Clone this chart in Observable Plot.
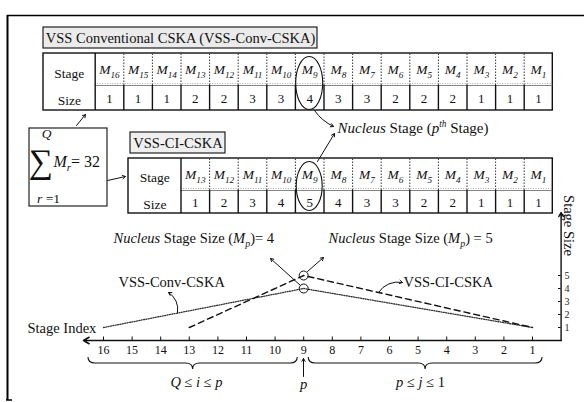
<!DOCTYPE html>
<html><head><meta charset="utf-8">
<script src="https://cdn.jsdelivr.net/npm/d3@7"></script>
<script src="https://cdn.jsdelivr.net/npm/@observablehq/plot@0.6"></script>
<style>html,body{margin:0;padding:0;background:#fff;} #chart svg{display:block;}</style>
</head><body><div id="chart"></div>
<script>
// ---------- data ----------
const convStages = [16,15,14,13,12,11,10,9,8,7,6,5,4,3,2,1];
const convLabels = ["M16","M15","M14","M13","M12","M11","M10","M9","M8","M7","M6","M5","M4","M3","M2","M1"];
const convSizes  = [1,1,1,2,2,3,3,4,3,3,2,2,2,1,1,1];
const ciStages = [13,12,11,10,9,8,7,6,5,4,3,2,1];
const ciLabels = ["M13","M12","M11","M10","M9","M8","M7","M6","M5","M4","M3","M2","M1"];
const ciSizes  = [1,2,3,4,5,4,3,3,2,2,1,1,1];
const stageTicks = [16,15,14,13,12,11,10,9,8,7,6,5,4,3,2,1];
const sizeTicks = [1,2,3,4,5];

// ---------- layout helpers (pixel <-> scale units) ----------
const PX0 = 532, PXU = 28.6, PY0 = 340, PYU = 13;
const X = p => 1 + (PX0 - p) / PXU;     // pixel x -> stage index
const Y = p => (PY0 - p) / PYU;         // pixel y -> stage size
const px = v => PX0 - (v - 1) * PXU;
const COL = 6 / PXU;
const cx = s => s - COL;                 // table column centre in stage units
const FONT = "'Liberation Serif', 'Times New Roman', serif";
const RICH = "\u200B";                   // marker for texts with italic/sub/sup markup

function trend(stages, sizes) {
  const k = d3.maxIndex(sizes);
  return [
    {s: stages[0], v: sizes[0]},
    {s: stages[k], v: sizes[k]},
    {s: stages[stages.length - 1], v: sizes[sizes.length - 1]}
  ];
}
const convTrend = trend(convStages, convSizes);
const ciTrend = trend(ciStages, ciSizes);
const nucleus = [convTrend[1], ciTrend[1]];
const total = d3.sum(convSizes);

function table(stages, labels, sizes, left, top, mid, bottom) {
  const rows = stages.map((s, k) => ({s, label: RICH + "*M*_{" + labels[k].slice(1) + "}", v: sizes[k]}));
  const first = stages[0];
  const inner = stages.slice(1);
  const hdrRight = px(cx(first + 0.5));
  return [
    Plot.rect([0], {x1: X(left), x2: cx(0.5), y1: Y(bottom), y2: Y(top), fill: "white", stroke: "#111", strokeWidth: 1.4}),
    Plot.ruleY([0], {y: Y(mid), x1: cx(first + 0.5), x2: cx(0.5), stroke: "#777", strokeWidth: 0.9}),
    Plot.ruleY([0], {y: Y(mid - 2), x1: cx(first + 0.5), x2: cx(0.5), stroke: "#999", strokeWidth: 0.8, strokeDasharray: "1,1.5"}),
    Plot.ruleX([first + 0.5], {x: d => cx(d), y1: Y(bottom), y2: Y(top), stroke: "#111", strokeWidth: 1.4}),
    Plot.ruleX(inner, {x: d => cx(d + 0.5), y1: Y(mid), y2: Y(top), stroke: "#333", strokeWidth: 1, strokeDasharray: "1.5,1.5"}),
    Plot.ruleX(inner, {x: d => cx(d + 0.5), y1: Y(bottom), y2: Y(mid), stroke: "#111", strokeWidth: 1.4}),
    Plot.text(rows, {x: d => cx(d.s), y: Y((top + mid) / 2 + 0.5), text: "label", fontSize: 13.5, fill: "#111"}),
    Plot.text(rows, {x: d => cx(d.s), y: Y((mid + bottom) / 2 + 0.5), text: "v", fontSize: 13, fill: "#111"}),
    Plot.text(["Stage\nSize"], {x: X((left + hdrRight) / 2), y: Y((top + bottom) / 2 + 1), lineHeight: 2, fontSize: 13.5, fill: "#111"})
  ];
}

const arrow = (x1, y1, x2, y2, o = {}) => Plot.arrow([0], {x1: X(x1), y1: Y(y1), x2: X(x2), y2: Y(y2), stroke: "#111", strokeWidth: 1, headLength: 5, ...o});
const label = (t, x, y, o = {}) => Plot.text([RICH + t], {x: X(x), y: Y(y), fontSize: 14.5, fill: "#111", textAnchor: "start", ...o});

const plot = Plot.plot({
  width: 584, height: 402, margin: 0,
  x: {domain: [X(0), X(584)], axis: null},
  y: {domain: [Y(402), Y(0)], axis: null},
  style: {fontFamily: FONT, background: "white", overflow: "visible"},
  marks: [
    // frame
    Plot.ruleX([0], {x: X(7), y1: Y(15), y2: Y(400), stroke: "#000", strokeWidth: 2}),
    Plot.ruleY([0], {y: Y(15), x1: X(7), x2: X(584), stroke: "#000", strokeWidth: 1.6}),
    Plot.ruleY([0], {y: Y(399.5), x1: X(6), x2: X(12), stroke: "#000", strokeWidth: 1.5}),

    // title boxes
    Plot.rect([0], {x1: X(43), x2: X(317), y1: Y(48), y2: Y(27), fill: "#ebebeb", stroke: "#222", strokeWidth: 1.2}),
    label("VSS Conventional CSKA (VSS-Conv-CSKA)", 180, 38, {textAnchor: "middle"}),
    Plot.rect([0], {x1: X(130), x2: X(225), y1: Y(153), y2: Y(132), fill: "#efefef", stroke: "#222", strokeWidth: 1.2}),
    label("VSS-CI-CSKA", 177.5, 142.5, {textAnchor: "middle"}),

    // tables
    ...table(convStages, convLabels, convSizes, 43, 53, 85, 110),
    ...table(ciStages, ciLabels, ciSizes, 128, 158, 190, 213),

    // sum box
    Plot.rect([0], {x1: X(29), x2: X(107), y1: Y(206), y2: Y(128), fill: "white", stroke: "#222", strokeWidth: 1.2}),
    label("*Q*", 46, 133.5, {textAnchor: "middle", fontSize: 13.5}),
    label("\u2211", 40, 162, {textAnchor: "middle", fontSize: 34}),
    label("*M*_{r}= " + total, 53, 161, {fontSize: 16}),
    label("*r* =1", 48, 198, {textAnchor: "middle", fontSize: 13.5}),
    arrow(76, 125, 85, 114),
    arrow(107, 180, 125, 176),

    // nucleus annotation
    label("*Nucleus* Stage (*p*^{th} Stage)", 337, 128, {fontSize: 15}),
    arrow(314, 110, 333, 126, {bend: -15}),
    arrow(317, 161, 334, 133),

    // chart axes
    arrow(560.6, 340, 83, 340, {strokeWidth: 1.6, headLength: 6}),
    arrow(560.6, 340, 560.6, 212, {strokeWidth: 1.4, headLength: 5}),
    Plot.ruleX(stageTicks, {x: d => d, y1: 0, y2: Y(336.5), stroke: "#111", strokeWidth: 1}),
    Plot.text(stageTicks, {x: d => d, y: Y(349.5), text: d => d, fontSize: 12, fill: "#111"}),
    Plot.ruleY(sizeTicks, {y: d => d, x1: X(558), x2: 0, stroke: "#111", strokeWidth: 1}),
    Plot.text(sizeTicks, {x: X(564), y: d => d, text: d => d, fontSize: 10, fill: "#222", textAnchor: "start"}),
    Plot.text(["Stage Size"], {x: X(568), y: Y(225), rotate: 90, fontSize: 14.5, fill: "#111"}),

    // trend lines
    Plot.line(convTrend, {x: "s", y: "v", stroke: "#333", strokeWidth: 1.3, strokeDasharray: "1,1.4"}),
    Plot.line(ciTrend, {x: "s", y: "v", stroke: "#111", strokeWidth: 1.4, strokeDasharray: "6,4"}),
    Plot.dot(nucleus, {x: "s", y: "v", r: 4.5, stroke: "#111", strokeWidth: 1, fill: "none"}),

    // chart labels
    label("Stage Index", 27, 328),
    label("VSS-Conv-CSKA", 118, 282),
    arrow(177, 312, 168, 292, {bend: -35}),
    label("VSS-CI-CSKA", 403, 282),
    arrow(378, 292, 402, 282, {bend: 35}),
    label("*Nucleus* Stage Size (*M*_{p})= 4", 113, 238),
    arrow(300, 285, 270, 258),
    label("*Nucleus* Stage Size (*M*_{p}) = 5", 328, 238),
    arrow(307, 271, 323, 257),

    // index ranges
    label("*Q* \u2264 *i* \u2264 *p*", 196, 382, {textAnchor: "middle"}),
    label("*p*", 303, 384, {textAnchor: "middle"}),
    arrow(303, 376, 303, 358),
    label("*p* \u2264 *j* \u2264 1", 420, 382, {textAnchor: "middle"})
  ]
});

document.getElementById("chart").appendChild(plot);

// ---------- rich text (italic / sub / superscript as tspans) ----------
const NS = "http://www.w3.org/2000/svg";
plot.querySelectorAll("text").forEach(t => {
  const s = t.textContent;
  if (!s.startsWith(RICH)) return;
  const fs = parseFloat(getComputedStyle(t).fontSize) || 14;
  t.textContent = "";
  const re = /\*([^*]+)\*|_\{([^}]+)\}|\^\{([^}]+)\}|([^*_^]+)/g;
  let m, shift = 0;
  const body = s.slice(RICH.length);
  while ((m = re.exec(body))) {
    const sp = document.createElementNS(NS, "tspan");
    let target = 0;
    if (m[1] !== undefined) { sp.textContent = m[1]; sp.setAttribute("font-style", "italic"); }
    else if (m[2] !== undefined) { sp.textContent = m[2]; sp.setAttribute("font-size", fs * 0.68); sp.setAttribute("font-style", "italic"); target = fs * 0.28; }
    else if (m[3] !== undefined) { sp.textContent = m[3]; sp.setAttribute("font-size", fs * 0.62); sp.setAttribute("font-style", "italic"); target = -fs * 0.4; }
    else sp.textContent = m[4];
    if (target !== shift) { sp.setAttribute("dy", target - shift); shift = target; }
    t.appendChild(sp);
  }
});

// ---------- ellipses around nucleus cells and braces ----------
const sx = plot.scale("x");
const ov = d3.select(plot).append("g").attr("fill", "none").attr("stroke", "#111").attr("stroke-width", 1.1);
[[convTrend[1].s, 83, 13.5, 26.5], [ciTrend[1].s, 186, 13, 24.5]].forEach(([s, cy, rx, ry]) => {
  ov.append("ellipse").attr("cx", sx.apply(cx(s))).attr("cy", cy).attr("rx", rx).attr("ry", ry);
});
function brace(x1, x2, y0, h) {
  const mid = (x1 + x2) / 2, r = 7, ym = y0 + h / 2;
  return `M${x1},${y0}Q${x1},${ym} ${x1 + r},${ym}L${mid - r},${ym}Q${mid},${ym} ${mid},${y0 + h}Q${mid},${ym} ${mid + r},${ym}L${x2 - r},${ym}Q${x2},${ym} ${x2},${y0}`;
}
const pX = sx.apply(nucleus[0].s);
ov.append("path").attr("d", brace(sx.apply(stageTicks[0]) - 15, pX - 6, 357, 12));
ov.append("path").attr("d", brace(pX + 5, sx.apply(1) + 10, 357, 12));
</script>
</body></html>
